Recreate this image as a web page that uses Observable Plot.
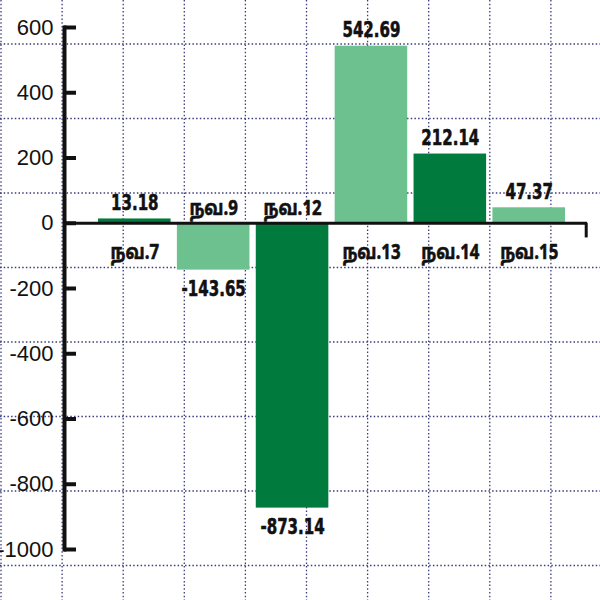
<!DOCTYPE html>
<html><head><meta charset="utf-8">
<script src="https://cdn.jsdelivr.net/npm/d3@7"></script>
<script src="https://cdn.jsdelivr.net/npm/@observablehq/plot@0.6"></script>
<style>
body{margin:0;background:#fff}
#wrap{position:relative;width:600px;height:600px;overflow:hidden}
#wrap svg{position:absolute;left:0;top:0}
</style></head><body><div id="wrap"></div>
<script>
const categories = ["நவ.7","நவ.9","நவ.12","நவ.13","நவ.14","நவ.15"];
const values = [13.18,-143.65,-873.14,542.69,212.14,47.37];
const shades = ["dark","light","dark","light","dark","light"];
const valueLabels = ["13.18","-143.65","-873.14","542.69","212.14","47.37"];
const yTicks = [600,400,200,0,-200,-400,-600,-800,-1000];

const data = categories.map((c,i)=>({cat:c, value:values[i], shade:shades[i], label:valueLabels[i]}));
const pos = data.filter(d=>d.value>=0), neg = data.filter(d=>d.value<0);

// decorative graph-paper background
const grid = d3.select("#wrap").append("svg").attr("width",600).attr("height",600);
const gx = d3.range(10).map(i=>1+i*61.1);
const gy = d3.range(8).map(i=>44+i*74.5);
grid.selectAll("line.v").data(gx).join("line").attr("x1",d=>d).attr("x2",d=>d).attr("y1",0).attr("y2",600)
  .attr("stroke","#3c3c7c").attr("stroke-width",1.3).attr("stroke-dasharray","1.5,2.2");
grid.selectAll("line.h").data(gy).join("line").attr("y1",d=>d).attr("y2",d=>d).attr("x1",0).attr("x2",600)
  .attr("stroke","#3c3c7c").attr("stroke-width",1.3).attr("stroke-dasharray","1.5,2.2");

const numFont = "'DejaVu Sans Condensed','DejaVu Sans',sans-serif";
const tamFont = "'Noto Sans Tamil','Lohit Tamil','Noto Sans',sans-serif";

const chart = Plot.plot({
  width:600, height:600,
  marginTop:27, marginBottom:51, marginLeft:64, marginRight:13,
  x:{domain:categories, range:[98,565], paddingInner:0.08, paddingOuter:0, round:false, axis:null},
  y:{domain:[-1000,600]},
  color:{domain:["dark","light"], range:["#007b3d","#6cc18f"]},
  style:{background:"transparent", overflow:"visible"},
  marks:[
    Plot.barY(data,{x:"cat", y:"value", fill:"shade"}),
    Plot.ruleY([0],{stroke:"#111", strokeWidth:3}),
    Plot.frame({anchor:"left", stroke:"#111", strokeWidth:4}),
    Plot.ruleX([categories[5]],{x:d=>d, y1:0, y2:-45, dx:57, stroke:"#111", strokeWidth:3}),
    Plot.axisY(yTicks,{anchor:"left", label:null, tickSize:12, dx:12, tickFormat:()=>"", stroke:"#111", strokeWidth:4}),
    Plot.axisY(yTicks,{anchor:"left", label:null, tickSize:0, tickPadding:11, fontSize:22, fill:"#111",
      fontFamily:"'Liberation Sans',Arial,sans-serif", tickFormat:d=>String(d)}),
    Plot.text(pos,{x:"cat", y:"value", text:"label", lineAnchor:"bottom", dy:-9, fontSize:22,
      fontWeight:"bold", fontFamily:numFont, fill:"#111", stroke:"#111", strokeWidth:0.6}),
    Plot.text(neg,{x:"cat", y:"value", text:"label", lineAnchor:"top", dy:10, fontSize:22,
      fontWeight:"bold", fontFamily:numFont, fill:"#111", stroke:"#111", strokeWidth:0.6}),
    Plot.text(pos,{x:"cat", y:0, text:"cat", lineAnchor:"middle", dy:29, fontSize:21,
      fontWeight:"bold", fontFamily:tamFont, fill:"#111", stroke:"#111", strokeWidth:0.6}),
    Plot.text(neg,{x:"cat", y:0, text:"cat", lineAnchor:"middle", dy:-15, fontSize:21,
      fontWeight:"bold", fontFamily:tamFont, fill:"#111", stroke:"#111", strokeWidth:0.6})
  ]
});
document.getElementById("wrap").appendChild(chart);
// condense labels horizontally (heavy condensed look of the original)
function condense(list, k){
  d3.select(chart).selectAll("text").filter(function(){ return list.includes(this.textContent); })
    .each(function(){
      const t = this.getAttribute("transform") || "";
      this.setAttribute("transform", t + ` scale(${k},1)`);
    });
}
condense(valueLabels, 0.76);
condense(categories, 0.8);
</script></body></html>
